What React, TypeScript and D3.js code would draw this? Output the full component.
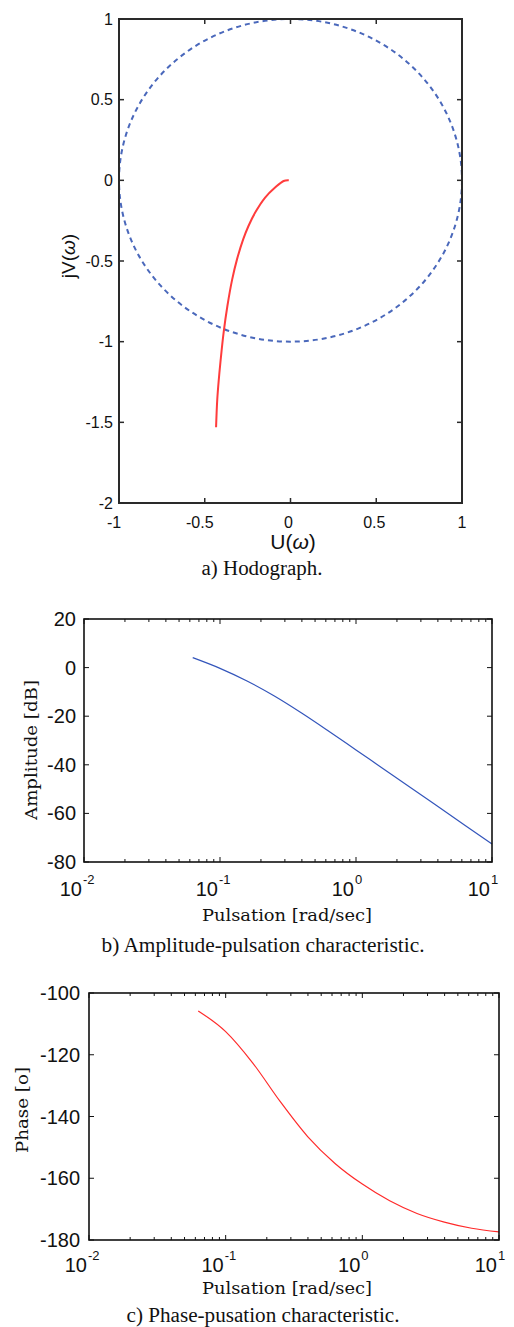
import React from 'react';
import * as d3 from 'd3';

// ---- Data ----
const hodoU = [-0.01, -0.04, -0.09, -0.148, -0.206, -0.245, -0.276, -0.312, -0.34, -0.368, -0.39, -0.407, -0.418, -0.427, -0.434];
const hodoV = [0, -0.004, -0.045, -0.107, -0.2, -0.283, -0.366, -0.49, -0.614, -0.779, -0.944, -1.11, -1.234, -1.358, -1.53];

const ampW = [0.063, 0.1, 0.158, 0.251, 0.398, 0.631, 1, 1.585, 2.512, 3.981, 6.31, 10];
const ampDb = [4.1, -0.3, -5.5, -11.7, -18.7, -26.2, -33.9, -41.6, -49.3, -57.1, -64.9, -72.6];

const phaseW = [0.063, 0.1, 0.158, 0.251, 0.398, 0.631, 1, 1.585, 2.512, 3.981, 6.31, 10];
const phaseDeg = [-105.8, -112.5, -122.7, -135.2, -146.5, -155.2, -161.9, -167.3, -171.4, -174.2, -176.2, -177.4];

const hodoXTicks = [-1, -0.5, 0, 0.5, 1];
const hodoYTicks = [-2, -1.5, -1, -0.5, 0, 0.5, 1];
const ampYTicks = [-80, -60, -40, -20, 0, 20];
const phaseYTicks = [-180, -160, -140, -120, -100];
const decadeExps = [-2, -1, 0, 1];
const minorMults = [2, 3, 4, 5, 6, 7, 8, 9];

const SANS = "'Liberation Sans', Arial, sans-serif";
const SERIF = "'Liberation Serif', 'Times New Roman', serif";
const LABEL = "'DejaVu Serif', serif";

function Hodograph() {
  const x = d3.scaleLinear().domain([-1, 1]).range([119, 462]);
  const y = d3.scaleLinear().domain([-2, 1]).range([503, 19]);
  const pts: [number, number][] = hodoU.map((u, i) => [u, hodoV[i]]);
  const line = d3.line<[number, number]>().x(d => x(d[0])).y(d => y(d[1])).curve(d3.curveCatmullRom);
  const [xl, xr] = x.range();
  const [yb, yt] = y.range();
  const tl = 5;
  return (
    <g>
      <ellipse cx={x(0)} cy={y(0)} rx={x(1) - x(0)} ry={y(0) - y(1)} fill="none" stroke="#4a68bb" strokeWidth={2} strokeDasharray="5,4" />
      <path d={line(pts) || ''} fill="none" stroke="#ff3c3c" strokeWidth={2} />
      <rect x={xl} y={yt} width={xr - xl} height={yb - yt} fill="none" stroke="#2a2a2a" strokeWidth={2} />
      {hodoXTicks.map(t => (
        <g key={'xt' + t}>
          <line x1={x(t)} x2={x(t)} y1={yb} y2={yb - tl} stroke="#2a2a2a" strokeWidth={1.5} />
          <line x1={x(t)} x2={x(t)} y1={yt} y2={yt + tl} stroke="#2a2a2a" strokeWidth={1.5} />
          <text x={x(t) + (t < 0 ? -5 : t === 1 ? 0 : -2)} y={522} textAnchor="middle" dominantBaseline="central" fontFamily={SANS} fontSize={16} fill="#111">{String(t)}</text>
        </g>
      ))}
      {hodoYTicks.map(t => (
        <g key={'yt' + t}>
          <line x1={xl} x2={xl + tl} y1={y(t)} y2={y(t)} stroke="#2a2a2a" strokeWidth={1.5} />
          <line x1={xr} x2={xr - tl} y1={y(t)} y2={y(t)} stroke="#2a2a2a" strokeWidth={1.5} />
          <text x={113} y={y(t)} textAnchor="end" dominantBaseline="central" fontFamily={SANS} fontSize={16} fill="#111">{String(t)}</text>
        </g>
      ))}
      <text x={293} y={541} textAnchor="middle" dominantBaseline="central" fontFamily={SANS} fontSize={21} fill="#111">U(<tspan fontStyle="italic">ω</tspan>)</text>
      <text transform="translate(68,256) rotate(-90)" textAnchor="middle" dominantBaseline="central" fontFamily={SANS} fontSize={19} fill="#111">jV(<tspan fontStyle="italic">ω</tspan>)</text>
      <text x={262} y={568} textAnchor="middle" dominantBaseline="central" fontFamily={SERIF} fontSize={20} textLength={121} lengthAdjust="spacingAndGlyphs" fill="#111">a) Hodograph.</text>
    </g>
  );
}

type LogProps = {
  left: number; right: number; top: number; bottom: number;
  yDomain: [number, number]; yTicks: number[];
  w: number[]; v: number[]; color: string;
  yLabel: string; yLabelX: number; yLabelY: number; yLabelLen: number;
  tickLabelRight: number; xLabelY: number; pulsY: number; capY: number; caption: string; capCx: number; capLen: number;
};

function LogChart(p: LogProps) {
  const x = d3.scaleLog().domain([0.01, 10]).range([p.left, p.right]);
  const y = d3.scaleLinear().domain(p.yDomain).range([p.bottom, p.top]);
  const pts: [number, number][] = p.w.map((w, i) => [w, p.v[i]]);
  const line = d3.line<[number, number]>().x(d => x(d[0])).y(d => y(d[1])).curve(d3.curveMonotoneX);
  const minors: number[] = [];
  decadeExps.slice(0, 3).forEach(e => minorMults.forEach(m => minors.push(m * Math.pow(10, e))));
  const major = 5, minor = 3;
  return (
    <g>
      <path d={line(pts) || ''} fill="none" stroke={p.color} strokeWidth={1.2} />
      <rect x={p.left} y={p.top} width={p.right - p.left} height={p.bottom - p.top} fill="none" stroke="#111" strokeWidth={1.6} />
      {minors.map((m, i) => (
        <g key={'mn' + i}>
          <line x1={x(m)} x2={x(m)} y1={p.bottom} y2={p.bottom - minor} stroke="#111" strokeWidth={1} />
          <line x1={x(m)} x2={x(m)} y1={p.top} y2={p.top + minor} stroke="#111" strokeWidth={1} />
        </g>
      ))}
      {decadeExps.map(e => {
        const xv = x(Math.pow(10, e));
        return (
          <g key={'mj' + e}>
            <line x1={xv} x2={xv} y1={p.bottom} y2={p.bottom - major} stroke="#111" strokeWidth={1} />
            <line x1={xv} x2={xv} y1={p.top} y2={p.top + major} stroke="#111" strokeWidth={1} />
            <text x={xv - 2} y={p.xLabelY} textAnchor="end" dominantBaseline="central" fontFamily={SANS} fontSize={20} fill="#111">10</text>
            <text x={xv - 1} y={p.xLabelY - 10} textAnchor="start" dominantBaseline="central" fontFamily={SANS} fontSize={13} fill="#111">{String(e)}</text>
          </g>
        );
      })}
      {p.yTicks.map(t => (
        <g key={'yt' + t}>
          <line x1={p.left} x2={p.left + major} y1={y(t)} y2={y(t)} stroke="#111" strokeWidth={1} />
          <line x1={p.right} x2={p.right - major} y1={y(t)} y2={y(t)} stroke="#111" strokeWidth={1} />
          <text x={p.tickLabelRight} y={y(t)} textAnchor="end" dominantBaseline="central" fontFamily={SANS} fontSize={20} fill="#111">{String(t)}</text>
        </g>
      ))}
      <text transform={`translate(${p.yLabelX},${p.yLabelY}) rotate(-90)`} textAnchor="middle" dominantBaseline="central" fontFamily={LABEL} fontSize={17} textLength={p.yLabelLen} lengthAdjust="spacingAndGlyphs" fill="#111">{p.yLabel}</text>
      <text x={287} y={p.pulsY} textAnchor="middle" dominantBaseline="central" fontFamily={LABEL} fontSize={17} textLength={170} lengthAdjust="spacingAndGlyphs" fill="#111">Pulsation [rad/sec]</text>
      <text x={p.capCx} y={p.capY} textAnchor="middle" dominantBaseline="central" fontFamily={SERIF} fontSize={20} textLength={p.capLen} lengthAdjust="spacingAndGlyphs" fill="#111">{p.caption}</text>
    </g>
  );
}

export default function App() {
  return (
    <svg width={514} height={1327} style={{ position: 'absolute', left: 0, top: 0, background: '#fff' }}>
      <rect x={0} y={0} width={514} height={1327} fill="#fff" />
      <Hodograph />
      <LogChart left={84} right={492} top={619} bottom={862} yDomain={[-80, 20]} yTicks={ampYTicks}
        w={ampW} v={ampDb} color="#3355bb" yLabel="Amplitude [dB]" yLabelX={31} yLabelY={750} yLabelLen={140}
        tickLabelRight={76} xLabelY={889} pulsY={915} capY={945} caption="b) Amplitude-pulsation characteristic." capCx={263} capLen={323} />
      <LogChart left={89} right={499} top={993} bottom={1240} yDomain={[-180, -100]} yTicks={phaseYTicks}
        w={phaseW} v={phaseDeg} color="#ff2a2a" yLabel="Phase [o]" yLabelX={22} yLabelY={1110} yLabelLen={86}
        tickLabelRight={80} xLabelY={1265} pulsY={1288} capY={1315} caption="c) Phase-pusation characteristic." capCx={263} capLen={273} />
    </svg>
  );
}
